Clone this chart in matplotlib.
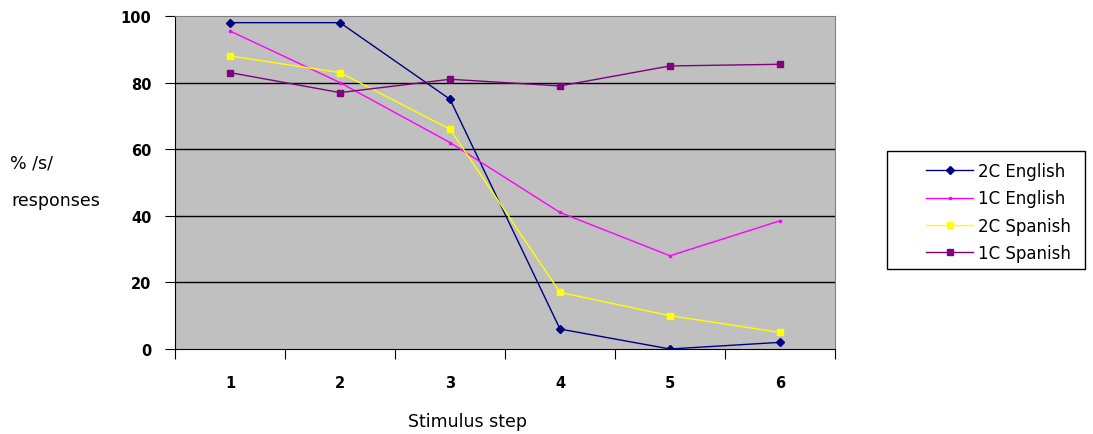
import matplotlib.pyplot as plt
from matplotlib.patches import Rectangle

steps = [1, 2, 3, 4, 5, 6]
en_2c = [98, 98, 75, 6, 0, 2]
en_1c = [95.5, 80, 62, 41, 28, 38.5]
sp_2c = [88, 83, 66, 17, 10, 5]
sp_1c = [83, 77, 81, 79, 85, 85.5]
y_ticks = [0, 20, 40, 60, 80, 100]

W, H = 1093, 435
fig = plt.figure(figsize=(W / 100, H / 100), dpi=100)
ax = fig.add_axes([175 / W, 85 / H, 660 / W, 333 / H])
ax.set_facecolor("#C0C0C0")

ax.plot(steps, en_2c, color="#000080", marker="D", ms=4, lw=1, label="2C English")
ax.plot(steps, en_1c, color="#FF00FF", marker="s", ms=2, lw=1, label="1C English")
ax.plot(steps, sp_2c, color="#FFFF00", marker="s", ms=4, lw=1, label="2C Spanish")
ax.plot(steps, sp_1c, color="#800080", marker="s", ms=4, lw=1, label="1C Spanish")

ax.set_xlim(0.5, 6.5)
ax.set_ylim(0, 100)
ax.set_yticks(y_ticks)
ax.set_yticklabels([str(v) for v in y_ticks], fontsize=10.5, fontweight="bold")
for v in y_ticks[1:-1]:
    ax.axhline(v, color="black", lw=1, zorder=1)

ax.set_xticks([x + 0.5 for x in [0] + steps])
ax.set_xticklabels([])
ax.set_xticks(steps, minor=True)
ax.set_xticklabels([str(s) for s in steps], minor=True, fontsize=10.5, fontweight="bold")
ax.tick_params(axis="x", which="minor", length=0, pad=19)
ax.tick_params(axis="x", which="major", length=7, direction="out")
ax.tick_params(axis="y", length=7, direction="out", pad=10)

ax.spines["top"].set_color("#808080")
ax.spines["right"].set_color("#808080")

fig.text(468 / W, 1 - 422 / H, "Stimulus step", fontsize=12.5, ha="center", va="center")
fig.text(10 / W, 1 - 163 / H, "% /s/", fontsize=12.5, va="center")
fig.text(11 / W, 1 - 201 / H, "responses", fontsize=12.5, va="center")

# legend box drawn separately so it can be sized like the original
fig.patches.append(Rectangle((887 / W, 1 - 270 / H), 198 / W, 118 / H,
                             transform=fig.transFigure, facecolor="white",
                             edgecolor="black", lw=1, zorder=1))
handles, labels = ax.get_legend_handles_labels()
leg = fig.legend(handles, labels, loc="center left",
                 bbox_to_anchor=(918 / W, 1 - 213 / H),
                 frameon=False, fontsize=12,
                 handlelength=2.8, handletextpad=0.3, labelspacing=0.55,
                 borderpad=0)
leg.set_zorder(5)

fig.savefig("out.png", dpi=100)
